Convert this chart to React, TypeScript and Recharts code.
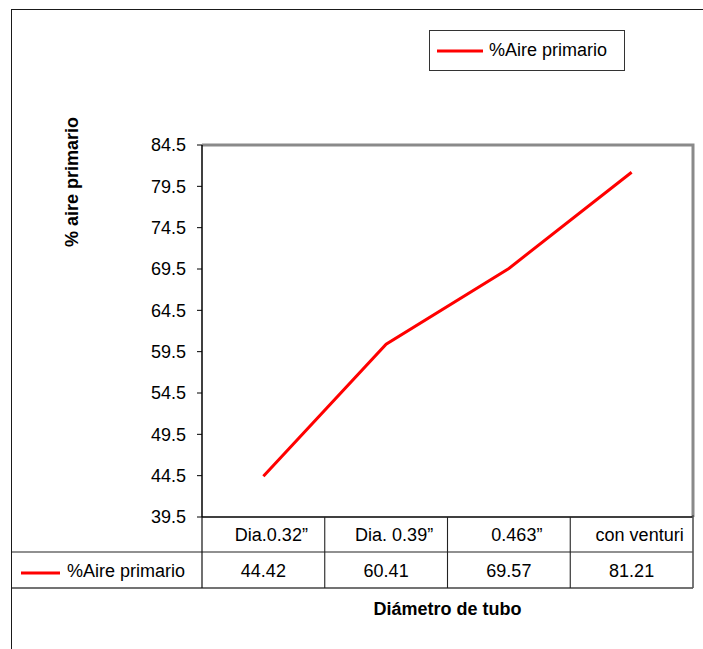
import React from 'react';
import { LineChart, Line, XAxis, YAxis, ReferenceArea, Legend } from 'recharts';

const CATEGORIES = ['Dia.0.32\u201d', 'Dia. 0.39\u201d', '0.463\u201d', 'con venturi'];
const AIRE_PRIMARIO = [44.42, 60.41, 69.57, 81.21];
const VALUE_LABELS = ['44.42', '60.41', '69.57', '81.21'];
const Y_TICKS = [39.5, 44.5, 49.5, 54.5, 59.5, 64.5, 69.5, 74.5, 79.5, 84.5];
const SERIES_NAME = '%Aire primario';
const X_TITLE = 'Diámetro de tubo';
const Y_TITLE = '% aire primario';

const data = CATEGORIES.map((c, i) => ({ cat: c, value: AIRE_PRIMARIO[i], label: VALUE_LABELS[i] }));

const FONT = '"Liberation Sans", Arial, sans-serif';
const W = 703;
const H = 649;
const MARGIN = { top: 145, right: 10, bottom: 61, left: 142 };
const X_AXIS_H = 71;
const ROW1 = 35;

const TableTick = (props: any) => {
  const { x, y, payload, index } = props;
  const n = CATEGORIES.length;
  const plotW = W - MARGIN.right - MARGIN.left - 60;
  const half = payload && payload.offset ? payload.offset : plotW / n / 2;
  const left0 = x - half - index * 2 * half;
  const right = left0 + n * 2 * half;
  const row = data[index];
  return (
    <g style={{ fontFamily: FONT }}>
      {index === 0 && (
        <g>
          <line x1={12} x2={right} y1={y + ROW1} y2={y + ROW1} stroke="#222" strokeWidth={1.2} />
          <line x1={12} x2={right} y1={y + X_AXIS_H} y2={y + X_AXIS_H} stroke="#444" strokeWidth={1.5} />
          <line x1={left0} x2={left0} y1={y} y2={y + X_AXIS_H} stroke="#111" strokeWidth={1.2} />
          <line x1={21} x2={60} y1={y + 56} y2={y + 56} stroke="#ff0000" strokeWidth={3} />
          <text x={67} y={y + 54} dominantBaseline="central" fontSize={18} fill="#000">
            {SERIES_NAME}
          </text>
        </g>
      )}
      <line
        x1={x + half}
        x2={x + half}
        y1={index === n - 1 ? y - 2 : y}
        y2={y + X_AXIS_H}
        stroke={index === n - 1 ? '#555' : '#222'}
        strokeWidth={index === n - 1 ? 1.6 : 1.1}
      />
      <text x={x + 8} y={y + 18} textAnchor="middle" dominantBaseline="central" fontSize={18} fill="#000">
        {payload.value}
      </text>
      <text x={x} y={y + 54} textAnchor="middle" dominantBaseline="central" fontSize={18} fill="#000">
        {row ? row.label : ''}
      </text>
    </g>
  );
};

const YTitle = (props: any) => {
  const vb = props.viewBox || { x: 142, y: 145, width: 60, height: 372 };
  const cx = vb.x - 70;
  const cy = 182;
  return (
    <text
      x={cx}
      y={cy}
      transform={`rotate(-90, ${cx}, ${cy})`}
      textAnchor="middle"
      dominantBaseline="central"
      fontSize={18}
      fontWeight="bold"
      fill="#000"
      style={{ fontFamily: FONT }}
    >
      {Y_TITLE}
    </text>
  );
};

const PlotFrame = (props: any) => {
  const { x, y, width, height } = props;
  return (
    <path
      d={`M${x},${y} H${x + width} V${y + height}`}
      fill="none"
      stroke="#8a8a8a"
      strokeWidth={3}
    />
  );
};

const LegendBox = () => (
  <div
    style={{
      width: 196,
      height: 41,
      border: '1.2px solid #333',
      boxSizing: 'border-box',
      display: 'flex',
      alignItems: 'center',
      background: '#fff',
      fontFamily: FONT,
      fontSize: 18,
      color: '#000',
    }}
  >
    <svg width={52} height={6} style={{ marginLeft: 7 }}>
      <line x1={0} x2={46} y1={3} y2={3} stroke="#ff0000" strokeWidth={3} />
    </svg>
    <span>{SERIES_NAME}</span>
  </div>
);

export default function App() {
  return (
    <div
      style={{
        position: 'absolute',
        left: 0,
        top: 0,
        width: W,
        height: H,
        overflow: 'hidden',
        background: '#fff',
        fontFamily: FONT,
      }}
    >
      <div
        style={{
          position: 'absolute',
          left: 11,
          top: 9,
          width: 900,
          height: 900,
          borderLeft: '1.5px solid #1a1a1a',
          borderTop: '1.5px solid #1a1a1a',
        }}
      />
      <div style={{ position: 'absolute', left: 0, top: 0 }}>
        <LineChart width={W} height={H} data={data} margin={MARGIN}>
          <ReferenceArea y1={39.5} y2={84.5} ifOverflow="visible" shape={PlotFrame} />
          <XAxis
            dataKey="cat"
            scale="band"
            interval={0}
            height={X_AXIS_H}
            tickSize={0}
            tickMargin={0}
            tickLine={false}
            axisLine={{ stroke: '#000', strokeWidth: 1.5 }}
            tick={<TableTick />}
          />
          <YAxis
            width={60}
            type="number"
            domain={[39.5, 84.5]}
            ticks={Y_TICKS}
            interval={0}
            tickFormatter={(v: number) => v.toFixed(1)}
            tickSize={5}
            tickMargin={11}
            axisLine={{ stroke: '#000', strokeWidth: 1.5 }}
            tickLine={{ stroke: '#000' }}
            tick={{ fill: '#000', fontSize: 18, fontFamily: FONT }}
            label={<YTitle />}
          />
          <Legend
            layout="horizontal"
            verticalAlign="middle"
            align="center"
            content={<LegendBox />}
            wrapperStyle={{ position: 'absolute', left: 429, top: 30, width: 196 }}
          />
          <Line
            type="linear"
            dataKey="value"
            name={SERIES_NAME}
            stroke="#ff0000"
            strokeWidth={3}
            dot={false}
            isAnimationActive={false}
          />
        </LineChart>
      </div>
      <div
        style={{
          position: 'absolute',
          left: 202,
          width: 491,
          top: 598,
          textAlign: 'center',
          fontFamily: FONT,
          fontSize: 18,
          fontWeight: 'bold',
          color: '#000',
          lineHeight: '22px',
        }}
      >
        {X_TITLE}
      </div>
    </div>
  );
}
